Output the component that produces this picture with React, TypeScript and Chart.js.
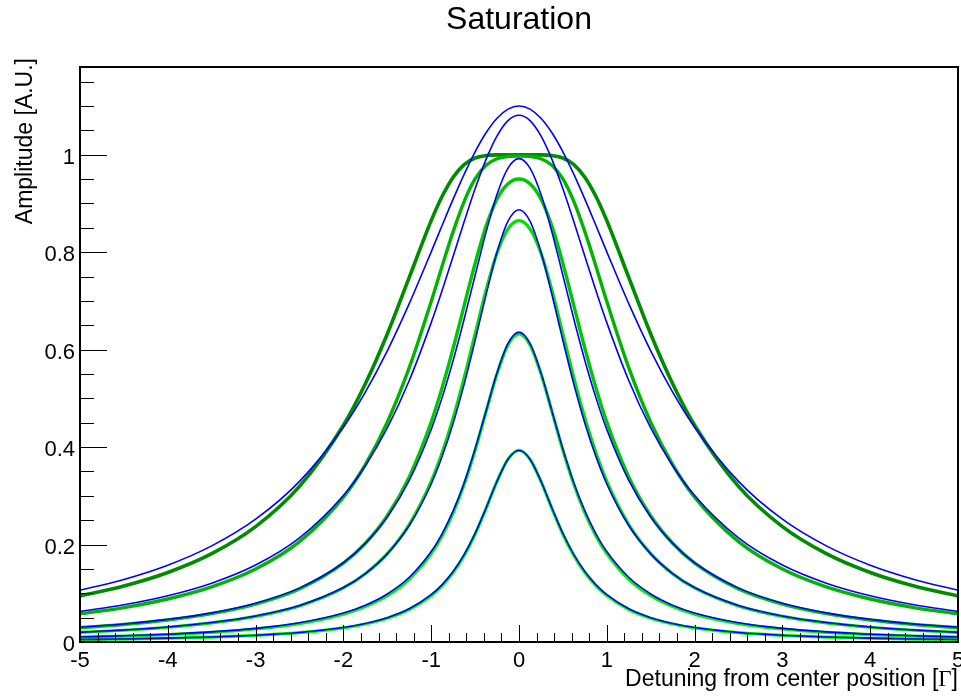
import React, { useEffect, useRef } from "react";
import { Chart, registerables } from "chart.js";

Chart.register(...registerables);

// Detuning positions [Γ]
const detuning = [
  -5, -4.5, -4, -3.5, -3, -2.5, -2, -1.75, -1.5, -1.25, -1, -0.875, -0.75, -0.625, -0.5, -0.375, -0.25, -0.125,
  0,
  0.125, 0.25, 0.375, 0.5, 0.625, 0.75, 0.875, 1, 1.25, 1.5, 1.75, 2, 2.5, 3, 3.5, 4, 4.5, 5,
];

// Saturated profiles (green)
const sat05 = [
  0.0049, 0.0061, 0.0077, 0.0100, 0.0134, 0.0191, 0.0290, 0.0370, 0.0488, 0.0666, 0.0952, 0.1158, 0.1426, 0.1773, 0.2212, 0.2739, 0.3297, 0.3754,
  0.3935,
  0.3754, 0.3297, 0.2739, 0.2212, 0.1773, 0.1426, 0.1158, 0.0952, 0.0666, 0.0488, 0.0370, 0.0290, 0.0191, 0.0134, 0.0100, 0.0077, 0.0061, 0.0049,
];
const sat1 = [
  0.0099, 0.0121, 0.0153, 0.0198, 0.0267, 0.0377, 0.0571, 0.0727, 0.0952, 0.1288, 0.1813, 0.2182, 0.2649, 0.3231, 0.3935, 0.4727, 0.5507, 0.6098,
  0.6321,
  0.6098, 0.5507, 0.4727, 0.3935, 0.3231, 0.2649, 0.2182, 0.1813, 0.1288, 0.0952, 0.0727, 0.0571, 0.0377, 0.0267, 0.0198, 0.0153, 0.0121, 0.0099,
];
const sat2 = [
  0.0196, 0.0241, 0.0303, 0.0392, 0.0526, 0.0740, 0.1110, 0.1401, 0.1813, 0.2411, 0.3297, 0.3888, 0.4596, 0.5418, 0.6321, 0.7220, 0.7981, 0.8478,
  0.8647,
  0.8478, 0.7981, 0.7220, 0.6321, 0.5418, 0.4596, 0.3888, 0.3297, 0.2411, 0.1813, 0.1401, 0.1110, 0.0740, 0.0526, 0.0392, 0.0303, 0.0241, 0.0196,
];
const sat3 = [
  0.0293, 0.0359, 0.0451, 0.0582, 0.0779, 0.1090, 0.1618, 0.2026, 0.2592, 0.3389, 0.4512, 0.5222, 0.6027, 0.6899, 0.7769, 0.8534, 0.9093, 0.9406,
  0.9502,
  0.9406, 0.9093, 0.8534, 0.7769, 0.6899, 0.6027, 0.5222, 0.4512, 0.3389, 0.2592, 0.2026, 0.1618, 0.1090, 0.0779, 0.0582, 0.0451, 0.0359, 0.0293,
];
const sat6 = [
  0.0577, 0.0706, 0.0882, 0.1131, 0.1497, 0.2061, 0.2974, 0.3642, 0.4512, 0.5629, 0.6988, 0.7717, 0.8422, 0.9038, 0.9502, 0.9785, 0.9918, 0.9965,
  0.9975,
  0.9965, 0.9918, 0.9785, 0.9502, 0.9038, 0.8422, 0.7717, 0.6988, 0.5629, 0.4512, 0.3642, 0.2974, 0.2061, 0.1497, 0.1131, 0.0882, 0.0706, 0.0577,
];
const sat10 = [
  0.0943, 0.1148, 0.1426, 0.1813, 0.2368, 0.3193, 0.4447, 0.5299, 0.6321, 0.7482, 0.8647, 0.9147, 0.9539, 0.9798, 0.9933, 0.9983, 0.9997, 0.9999,
  1.0,
  0.9999, 0.9997, 0.9983, 0.9933, 0.9798, 0.9539, 0.9147, 0.8647, 0.7482, 0.6321, 0.5299, 0.4447, 0.3193, 0.2368, 0.1813, 0.1426, 0.1148, 0.0943,
];

// Lorentzian fits (blue)
const fit05 = [
  0.0051, 0.0063, 0.0079, 0.0102, 0.0138, 0.0196, 0.0297, 0.0380, 0.0499, 0.0681, 0.0970, 0.1178, 0.1446, 0.1792, 0.2229, 0.2750, 0.3300, 0.3751,
  0.393,
  0.3751, 0.3300, 0.2750, 0.2229, 0.1792, 0.1446, 0.1178, 0.0970, 0.0681, 0.0499, 0.0380, 0.0297, 0.0196, 0.0138, 0.0102, 0.0079, 0.0063, 0.0051,
];
const fit1 = [
  0.0103, 0.0127, 0.0160, 0.0207, 0.0279, 0.0394, 0.0594, 0.0754, 0.0985, 0.1328, 0.1856, 0.2226, 0.2690, 0.3265, 0.3959, 0.4742, 0.5523, 0.6128,
  0.636,
  0.6128, 0.5523, 0.4742, 0.3959, 0.3265, 0.2690, 0.2226, 0.1856, 0.1328, 0.0985, 0.0754, 0.0594, 0.0394, 0.0279, 0.0207, 0.0160, 0.0127, 0.0103,
];
const fit2 = [
  0.0200, 0.0245, 0.0308, 0.0399, 0.0534, 0.0749, 0.1117, 0.1405, 0.1809, 0.2390, 0.3243, 0.3810, 0.4489, 0.5287, 0.6186, 0.7130, 0.8002, 0.8636,
  0.887,
  0.8636, 0.8002, 0.7130, 0.6186, 0.5287, 0.4489, 0.3810, 0.3243, 0.2390, 0.1809, 0.1405, 0.1117, 0.0749, 0.0534, 0.0399, 0.0308, 0.0245, 0.0200,
];
const fit3 = [
  0.0302, 0.0370, 0.0464, 0.0597, 0.0795, 0.1106, 0.1626, 0.2023, 0.2564, 0.3315, 0.4360, 0.5020, 0.5777, 0.6622, 0.7522, 0.8412, 0.9188, 0.9726,
  0.992,
  0.9726, 0.9188, 0.8412, 0.7522, 0.6622, 0.5777, 0.5020, 0.4360, 0.3315, 0.2564, 0.2023, 0.1626, 0.1106, 0.0795, 0.0597, 0.0464, 0.0370, 0.0302,
];
const fit6 = [
  0.0627, 0.0764, 0.0949, 0.1207, 0.1579, 0.2137, 0.3005, 0.3617, 0.4392, 0.5366, 0.6554, 0.7220, 0.7918, 0.8623, 0.9300, 0.9905, 1.0388, 1.0701,
  1.081,
  1.0701, 1.0388, 0.9905, 0.9300, 0.8623, 0.7918, 0.7220, 0.6554, 0.5366, 0.4392, 0.3617, 0.3005, 0.2137, 0.1579, 0.1207, 0.0949, 0.0764, 0.0627,
];
const fit10 = [
  0.1063, 0.1284, 0.1576, 0.1972, 0.2520, 0.3297, 0.4408, 0.5129, 0.5975, 0.6944, 0.8007, 0.8552, 0.9089, 0.9598, 1.0060, 1.0451, 1.0749, 1.0936,
  1.100,
  1.0936, 1.0749, 1.0451, 1.0060, 0.9598, 0.9089, 0.8552, 0.8007, 0.6944, 0.5975, 0.5129, 0.4408, 0.3297, 0.2520, 0.1972, 0.1576, 0.1284, 0.1063,
];

const xTickLabels = ["-5", "-4", "-3", "-2", "-1", "0", "1", "2", "3", "4", "5"];
const yTickLabels = ["0", "0.2", "0.4", "0.6", "0.8", "1"];

const TITLE = "Saturation";
const X_TITLE = "Detuning from center position [";
const X_TITLE_SYM = "Γ";
const Y_TITLE = "Amplitude [A.U.]";

const SANS = '"Liberation Sans", Arial, Helvetica, sans-serif';

const toPoints = (ys: number[]) => ys.map((y, i) => ({ x: detuning[i], y }));

const line = (ys: number[], color: string, width: number) => ({
  data: toPoints(ys),
  borderColor: color,
  backgroundColor: color,
  borderWidth: width,
  pointRadius: 0,
  fill: false,
  cubicInterpolationMode: "monotone" as const,
});

const rootFrame = {
  id: "rootFrame",
  afterDraw(chart: any) {
    const { ctx, chartArea } = chart;
    const xs = chart.scales.x;
    const ys = chart.scales.y;
    const { left, right, top, bottom } = chartArea;
    ctx.save();
    ctx.strokeStyle = "#000";
    ctx.fillStyle = "#000";

    // frame
    ctx.lineWidth = 2;
    ctx.strokeRect(left, top, right - left, bottom - top);

    // x ticks
    ctx.lineWidth = 1;
    ctx.beginPath();
    for (let i = 0; i <= 50; i++) {
      const v = -5 + i * 0.2;
      const px = Math.round(xs.getPixelForValue(v)) + 0.5;
      const len = i % 5 === 0 ? 17 : 9;
      ctx.moveTo(px, bottom);
      ctx.lineTo(px, bottom - len);
    }
    // y ticks
    const yMax = ys.max;
    for (let i = 0; i * 0.05 <= yMax + 1e-9; i++) {
      const v = i * 0.05;
      const py = Math.round(ys.getPixelForValue(v)) + 0.5;
      const len = i % 4 === 0 ? 27 : 14;
      ctx.moveTo(left, py);
      ctx.lineTo(left + len, py);
    }
    ctx.stroke();

    // tick labels
    ctx.font = `22px ${SANS}`;
    ctx.textAlign = "center";
    ctx.textBaseline = "alphabetic";
    xTickLabels.forEach((lab) => {
      const px = xs.getPixelForValue(parseFloat(lab));
      ctx.fillText(lab, px, bottom + 25);
    });
    ctx.textAlign = "right";
    yTickLabels.forEach((lab) => {
      const py = ys.getPixelForValue(parseFloat(lab));
      ctx.fillText(lab, left - 5, py + 9);
    });

    // title
    ctx.font = `32px ${SANS}`;
    ctx.textAlign = "center";
    ctx.fillText(TITLE, (left + right) / 2, 29);

    // x title (right aligned at the frame end)
    const xFont = `23px ${SANS}`;
    const symFont = `23px "Liberation Serif", "Times New Roman", serif`;
    ctx.font = xFont;
    const wMain = ctx.measureText(X_TITLE).width;
    const wClose = ctx.measureText("]").width;
    ctx.font = symFont;
    const wSym = ctx.measureText(X_TITLE_SYM).width;
    const endX = right;
    const baseY = 686;
    ctx.textAlign = "left";
    ctx.font = xFont;
    ctx.fillText(X_TITLE, endX - wClose - wSym - wMain, baseY);
    ctx.font = symFont;
    ctx.fillText(X_TITLE_SYM, endX - wClose - wSym, baseY);
    ctx.font = xFont;
    ctx.fillText("]", endX - wClose, baseY);

    // y title (rotated, right aligned at the top)
    ctx.save();
    ctx.translate(32, 58);
    ctx.rotate(-Math.PI / 2);
    ctx.font = `23px ${SANS}`;
    ctx.textAlign = "right";
    ctx.fillText(Y_TITLE, 0, 0);
    ctx.restore();

    ctx.restore();
  },
};

export default function App() {
  const canvasRef = useRef<HTMLCanvasElement | null>(null);

  useEffect(() => {
    document.body.style.margin = "0";
    const canvas = canvasRef.current;
    if (!canvas) return;
    const chart = new Chart(canvas, {
      type: "line",
      data: {
        datasets: [
          // blue fits drawn on top (first datasets are drawn last)
          line(fit05, "#0000ff", 1.6),
          line(fit1, "#0000ff", 1.6),
          line(fit2, "#0000ff", 1.6),
          line(fit3, "#0000ff", 1.6),
          line(fit6, "#0000ff", 1.6),
          line(fit10, "#0000ff", 1.6),
          line(sat05, "#00ff00", 3.2),
          line(sat1, "#00f000", 3.2),
          line(sat2, "#00e000", 3.2),
          line(sat3, "#00c800", 3.4),
          line(sat6, "#00b400", 3.4),
          line(sat10, "#008c00", 3.6),
        ] as any,
      },
      options: {
        responsive: false,
        animation: false,
        devicePixelRatio: 1,
        parsing: true,
        layout: { padding: { left: 80, right: 3, top: 67, bottom: 58 } },
        plugins: {
          legend: { display: false },
          tooltip: { enabled: false },
          title: { display: false },
        },
        scales: {
          x: { type: "linear", min: -5, max: 5, display: false },
          y: { type: "linear", min: 0, max: 1.18, display: false },
        },
      } as any,
      plugins: [rootFrame],
    });
    return () => chart.destroy();
  }, []);

  return (
    <div style={{ width: 961, height: 700, background: "#fff" }}>
      <canvas ref={canvasRef} width={961} height={700} />
    </div>
  );
}
